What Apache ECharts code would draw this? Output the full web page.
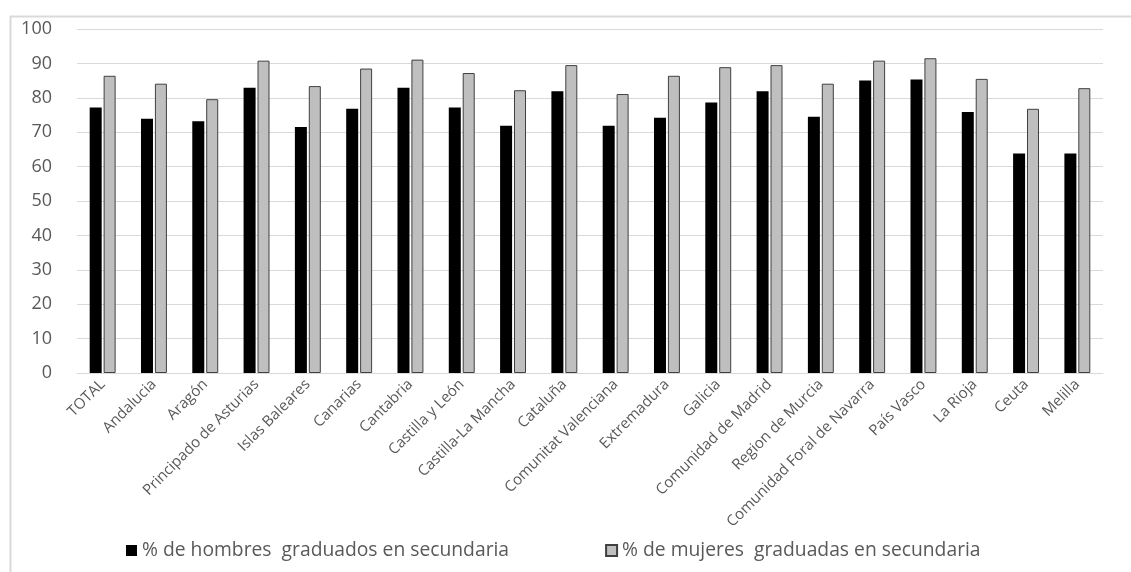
<!DOCTYPE html>
<html>
<head>
<meta charset="utf-8">
<script src="https://cdn.jsdelivr.net/npm/echarts@6/dist/echarts.min.js"></script>
<style>
  html, body { margin: 0; padding: 0; background: #fff; }
  #chart { width: 1131px; height: 572px; }
</style>
</head>
<body>
<div id="chart"></div>
<script>
// Regions (comunidades autónomas) plus the national total
const categories = [
  'TOTAL', 'Andalucia', 'Aragón', 'Principado de Asturias', 'Islas Baleares',
  'Canarias', 'Cantabria', 'Castilla y León', 'Castilla-La Mancha', 'Cataluña',
  'Comunitat Valenciana', 'Extremadura', 'Galicia', 'Comunidad de Madrid',
  'Region de Murcia', 'Comunidad Foral de Navarra', 'País Vasco', 'La Rioja',
  'Ceuta', 'Melilla'
];

// % of men graduated in secondary education
const hombres = [
  77.2, 73.9, 73.2, 82.9, 71.5, 76.8, 82.9, 77.2, 71.9, 81.9,
  71.9, 74.2, 78.6, 81.9, 74.5, 85.0, 85.3, 75.9, 63.8, 63.8
];

// % of women graduated in secondary education
const mujeres = [
  86.4, 84.1, 79.6, 90.8, 83.4, 88.5, 91.1, 87.2, 82.2, 89.5,
  81.1, 86.4, 88.9, 89.5, 84.1, 90.8, 91.5, 85.5, 76.8, 82.8
];

const seriesNames = [
  '% de hombres  graduados en secundaria',
  '% de mujeres  graduadas en secundaria'
];

const yTicks = { min: 0, max: 100, interval: 10 };

const FONT = '"Open Sans", Lato, sans-serif';
const TEXT = '#595959';

const chart = echarts.init(document.getElementById('chart'), null, { renderer: 'canvas' });

chart.setOption({
  animation: false,
  backgroundColor: '#ffffff',
  textStyle: { fontFamily: FONT, color: TEXT },
  graphic: [{
    type: 'rect',
    left: 8, top: 14,
    shape: { width: 1200, height: 700 },
    style: { fill: 'none', stroke: '#d9d9d9', lineWidth: 2 },
    silent: true
  }],
  grid: { left: 77, right: 28, top: 29, bottom: 199, containLabel: false },
  legend: {
    bottom: 7,
    left: 121,
    itemWidth: 11,
    itemHeight: 11,
    itemGap: 96,
    icon: 'rect',
    textStyle: { fontFamily: FONT, fontSize: 19.3, color: TEXT },
    data: seriesNames
  },
  xAxis: {
    type: 'category',
    data: categories,
    axisLine: { lineStyle: { color: '#d9d9d9', width: 1 } },
    axisTick: { show: false },
    axisLabel: {
      interval: 0,
      rotate: 45,
      margin: 9,
      fontFamily: FONT,
      fontSize: 15,
      color: TEXT
    }
  },
  yAxis: {
    type: 'value',
    min: yTicks.min,
    max: yTicks.max,
    interval: yTicks.interval,
    axisLine: { show: false },
    axisTick: { show: false },
    splitLine: { lineStyle: { color: '#d9d9d9', width: 1 } },
    axisLabel: { fontFamily: FONT, fontSize: 18, color: TEXT, margin: 25 }
  },
  series: [
    {
      name: seriesNames[0],
      type: 'bar',
      data: hombres,
      barWidth: 12,
      barGap: '16%',
      itemStyle: { color: '#000000', borderColor: '#000000', borderWidth: 0 }
    },
    {
      name: seriesNames[1],
      type: 'bar',
      data: mujeres,
      barWidth: 12,
      itemStyle: { color: '#bfbfbf', borderColor: '#404040', borderWidth: 1 }
    }
  ]
});
</script>
</body>
</html>
